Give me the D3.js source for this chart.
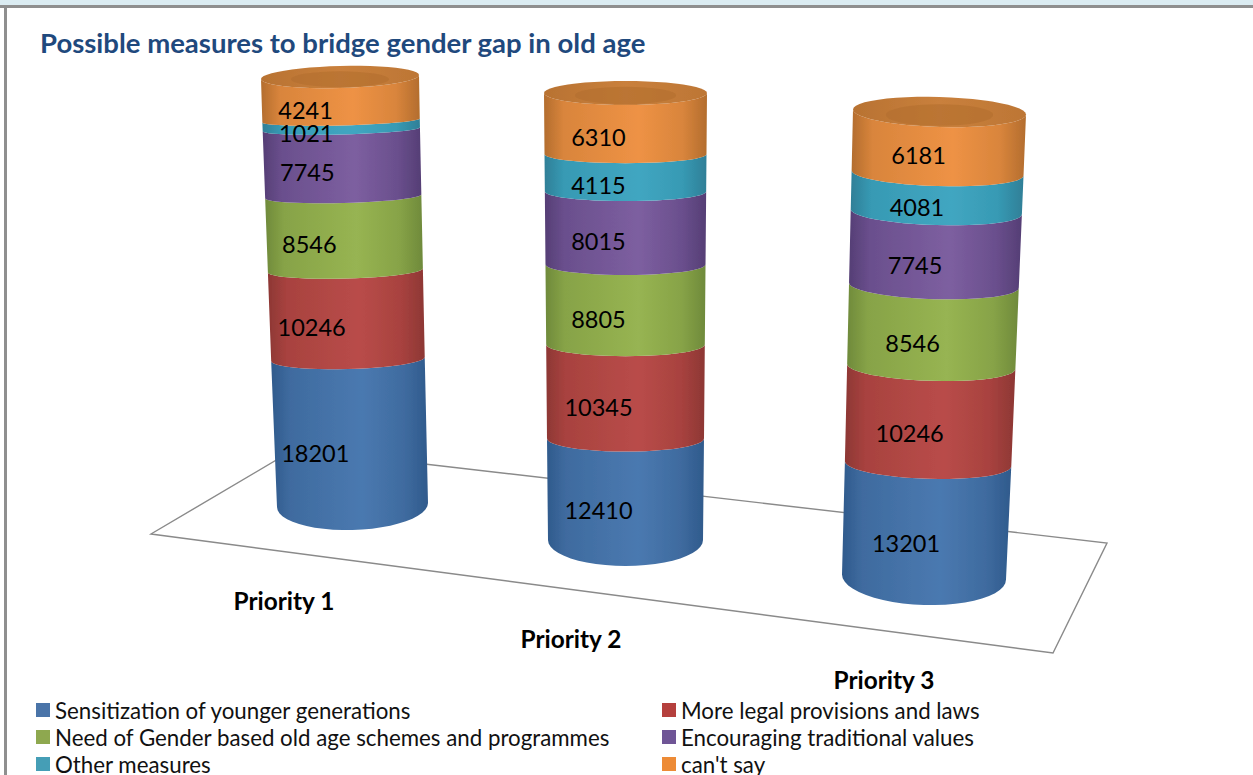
<!DOCTYPE html>
<html><head><meta charset="utf-8">
<script src="https://cdnjs.cloudflare.com/ajax/libs/d3/7.8.5/d3.min.js"></script>
<style>html,body{margin:0;padding:0;background:#fff;overflow:hidden}svg{display:block}text{font-family:Lato,"Open Sans",sans-serif}</style>
</head><body><svg id="c" width="1253" height="775"></svg>
<script>
const titleText = "Possible measures to bridge gender gap in old age";
const categories = ["Priority 1","Priority 2","Priority 3"];
const seriesNames = ["Sensitization of younger generations","More legal provisions and laws","Need of Gender based old age schemes and programmes","Encouraging traditional values","Other measures","can't say"];
const sensitization = [18201,12410,13201];
const legalProvisions = [10246,10345,10246];
const genderSchemes = [8546,8805,8546];
const traditionalValues = [7745,8015,7745];
const otherMeasures = [1021,4115,4081];
const cantSay = [4241,6310,6181];
const allSeries = [sensitization,legalProvisions,genderSchemes,traditionalValues,otherMeasures,cantSay];
const swatchColors = ["#4a74a8","#b5403d","#8ea84f","#6f5596","#459eb6","#ed8b36"];
const shades = [["#2f5a8c","#3f6b9f","#4a79b0"],["#8d3734","#a8423f","#b94c49"],["#6f8a3b","#87a347","#97b452"],["#553e75","#6a4f8d","#7d5fa0"],["#2f7f97","#379ab4","#41a6c1"],["#b36d2e","#d9853c","#ee9245"]];
const axisMax = 50000;

// Projected layout of the three cylinders
const geo = [
 {front:[530,88], left:[277,261], right:[428,419], ry:[25,10,5,11], tilt:-4, labelDx:-35, labelDy:[3,3,3,3,3,3], cat:[284,600]},
 {front:[566,105],left:[548,544], right:[703,707], ry:[26,13,9,12], tilt:0,  labelDx:-27, labelDy:[1,3,3,3,3,3], cat:[571,638]},
 {front:[605,127],left:[842,853], right:[1006,1026],ry:[28,15,13,15],tilt:5, labelDx:-20, labelDy:[1,3,3,3,1,-2], cat:[884,679]}
];

const svg = d3.select("#c");
const defs = svg.append("defs");
defs.append("filter").attr("id","soft").append("feGaussianBlur").attr("stdDeviation",0.7);
shades.forEach((s,i)=>{
  const g = defs.append("linearGradient").attr("id","g"+i);
  [[0,s[0]],[.12,s[1]],[.58,s[2]],[.85,s[1]],[1,s[0]]].forEach(d=>g.append("stop").attr("offset",d[0]).attr("stop-color",d[1]));
});
const capG = defs.append("linearGradient").attr("id","cap");
[[0,"#b87232"],[.5,"#c9803c"],[1,"#bd7635"]].forEach(d=>capG.append("stop").attr("offset",d[0]).attr("stop-color",d[1]));

// Page frame
svg.append("rect").attr("width",1253).attr("height",5).attr("fill","#dbecf2");
svg.append("rect").attr("y",5).attr("width",1253).attr("height",3).attr("fill","#8f8f8f");
svg.append("rect").attr("x",4).attr("y",5).attr("width",3).attr("height",770).attr("fill","#8f8f8f");

svg.append("text").attr("x",40).attr("y",53).attr("font-size",27.5).attr("font-weight",700).attr("fill","#1f497d").text(titleText);

// Floor
svg.append("path").attr("d",d3.line()([[295,449],[1107,543],[1053,653],[151,534]])+"Z")
  .attr("fill","none").attr("stroke","#8a8a8a").attr("stroke-width",1.4).attr("filter","url(#soft)");

const angles = d3.range(0,25).map(i=>Math.PI-i*Math.PI/24); // left to right along front
const line = d3.line();

categories.forEach((cat,c)=>{
  const g = geo[c];
  const vals = allSeries.map(s=>s[c]);
  const cum = d3.cumsum(vals);
  const y = d3.scaleLinear([0,axisMax],g.front);
  const xl = d3.scaleLinear([0,axisMax],g.left);
  const xr = d3.scaleLinear([0,axisMax],g.right);
  const ry = d3.scaleLinear([0,vals[0],cum[4],axisMax],g.ry);
  const arc = (v,as=angles)=>{
    const a=(xr(v)-xl(v))/2, cx=(xr(v)+xl(v))/2, r=ry(v), cy=y(v)-r;
    return as.map(t=>[cx+a*Math.cos(t), cy+r*Math.sin(t)+g.tilt/2*Math.cos(t)]);
  };
  const group = svg.append("g").attr("filter","url(#soft)");
  vals.forEach((v,i)=>{
    const lo = i?cum[i-1]:0, hi = cum[i];
    group.append("path").attr("d",line(arc(hi).concat(arc(lo).reverse()))+"Z")
      .attr("fill",`url(#g${i})`);
  });
  // top cap
  const full = d3.range(0,49).map(i=>i*Math.PI/24);
  const cap = arc(axisMax,full);
  group.append("path").attr("d",line(cap)+"Z").attr("fill","url(#cap)");
  const a=(g.right[1]-g.left[1])/2, cx=(g.right[1]+g.left[1])/2, r=g.ry[3], cy=g.front[1]-r;
  group.append("ellipse").attr("cx",cx).attr("cy",cy+r*0.2).attr("rx",a*0.62).attr("ry",r*0.72).attr("fill","#b36e2e").attr("opacity",.6);
  // labels
  vals.forEach((v,i)=>{
    const mid=(i?cum[i-1]:0)+v/2;
    svg.append("text").attr("x",(xl(mid)+xr(mid))/2+g.labelDx).attr("y",y(mid)+g.labelDy[i])
      .attr("text-anchor","middle").attr("dominant-baseline","central")
      .attr("font-size",23.5).attr("fill","#000").text(v);
  });
  svg.append("text").attr("x",g.cat[0]).attr("y",g.cat[1]).attr("text-anchor","middle").attr("dominant-baseline","central")
    .attr("font-size",24.4).attr("font-weight",700).attr("fill","#000").text(cat);
});

// Legend
const legendX = d3.scaleOrdinal([0,1],[36,662]);
const legendY = d3.scalePoint([0,1,2],[710,764]);
seriesNames.forEach((n,i)=>{
  const col=i%2,row=Math.floor(i/2);
  svg.append("rect").attr("x",legendX(col)).attr("y",legendY(row)-7).attr("width",14).attr("height",14).attr("fill",swatchColors[i]);
  svg.append("text").attr("x",legendX(col)+19).attr("y",legendY(row)).attr("dominant-baseline","central")
    .attr("font-size",22.3).attr("fill","#111").text(n);
});
</script></body></html>
